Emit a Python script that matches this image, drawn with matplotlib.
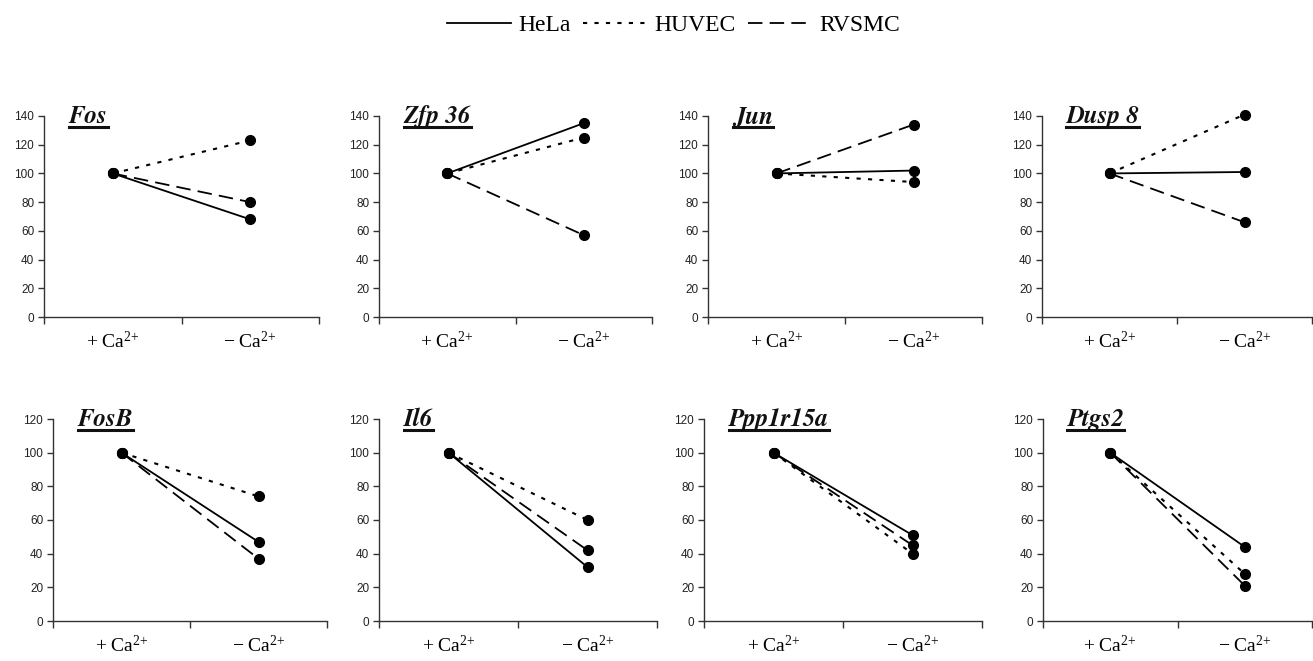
import matplotlib
matplotlib.use('Agg')
import matplotlib.pyplot as plt
from matplotlib.lines import Line2D

plt.rcParams['mathtext.default'] = 'regular'

# relative expression (% of +Ca2+)
genes = ['Fos', 'Zfp 36', 'Jun', 'Dusp 8', 'FosB', 'Il6', 'Ppp1r15a', 'Ptgs2']
conditions = ['+ Ca$^{2\\!+}$', '\u2212 Ca$^{2\\!+}$']
hela = [[100, 68], [100, 135], [100, 102], [100, 101],
        [100, 47], [100, 32], [100, 51], [100, 44]]
huvec = [[100, 123], [100, 125], [100, 94], [100, 141],
         [100, 74], [100, 60], [100, 40], [100, 28]]
rvsmc = [[100, 80], [100, 57], [100, 134], [100, 66],
         [100, 37], [100, 42], [100, 45], [100, 21]]
cell_lines = ['HeLa', 'HUVEC', 'RVSMC']
ymax_top = 140
ymax_bottom = 120

W, H = 1313, 661
fig = plt.figure(figsize=(W / 100, H / 100), dpi=100)

styles = {
    'HeLa': dict(linestyle='-', linewidth=1.3),
    'HUVEC': dict(linestyle=(0, (2, 3.5)), linewidth=1.5),
    'RVSMC': dict(linestyle=(0, (8, 4)), linewidth=1.3),
}

# axes boxes in pixels: left, top(y of max), right, bottom(y of 0)
top_boxes = [(44, 116, 319, 317), (379, 116, 652, 317),
             (708, 116, 982, 317), (1042, 116, 1312, 317)]
bot_boxes = [(53, 419, 327, 621), (379, 419, 657, 621),
             (704, 419, 982, 621), (1043, 419, 1312, 621)]

axes = []
for i, (l, t, r, b) in enumerate(top_boxes + bot_boxes):
    ax = fig.add_axes([l / W, 1 - b / H, (r - l) / W, (b - t) / H])
    axes.append(ax)
    x = [0, 1]
    for name, data in zip(cell_lines, [hela, huvec, rvsmc]):
        ax.plot(x, data[i], color='black', marker='o', markersize=7,
                clip_on=False, **styles[name])
    ymax = ymax_top if i < 4 else ymax_bottom
    ax.set_ylim(0, ymax)
    ax.set_yticks(range(0, ymax + 1, 20))
    ax.set_xlim(-0.5, 1.5)
    ax.set_xticks([-0.5, 0.5, 1.5])
    ax.set_xticklabels([])
    ax.set_xticks([0, 1], minor=True)
    ax.set_xticklabels(conditions, minor=True, family='Liberation Serif',
                       fontsize=14)
    ax.tick_params(axis='x', which='minor', length=0, pad=10)
    ax.tick_params(axis='x', which='major', length=5, direction='out',
                   width=1, color='#333333')
    ax.tick_params(axis='y', length=4, direction='out', width=1,
                   color='#333333', labelsize=8.5, pad=3,
                   labelcolor='#222222')
    for lab in ax.get_yticklabels():
        lab.set_family('Liberation Sans')
    for s in ['top', 'right']:
        ax.spines[s].set_visible(False)
    for s in ['left', 'bottom']:
        ax.spines[s].set_color('#333333')
        ax.spines[s].set_linewidth(1)
    ax.patch.set_visible(False)

titles = []
for i, ax in enumerate(axes):
    txt = ax.text(0.09, 1.0, genes[i], transform=ax.transAxes,
                  family='STIXGeneral', fontsize=18, fontweight='bold',
                  fontstyle='italic', va='center', ha='left', color='#111111')
    titles.append(txt)

# legend across the top
handles = [Line2D([], [], color='black', **styles[n]) for n in cell_lines]
leg = fig.legend(handles, cell_lines, loc='center', bbox_to_anchor=(0.513, 1 - 25 / H),
                 ncol=3, frameon=False, handlelength=2.75, handletextpad=0.3,
                 columnspacing=0.5, prop={'family': 'Liberation Serif', 'size': 17})

# underline the gene names
fig.canvas.draw()
renderer = fig.canvas.get_renderer()
for txt in titles:
    bb = txt.get_window_extent(renderer)
    y = bb.y0 + 1
    fig.add_artist(Line2D([bb.x0 / W, bb.x1 / W], [y / H, y / H],
                          color='#111111', linewidth=2.2))

fig.savefig('out.png', dpi=100)
